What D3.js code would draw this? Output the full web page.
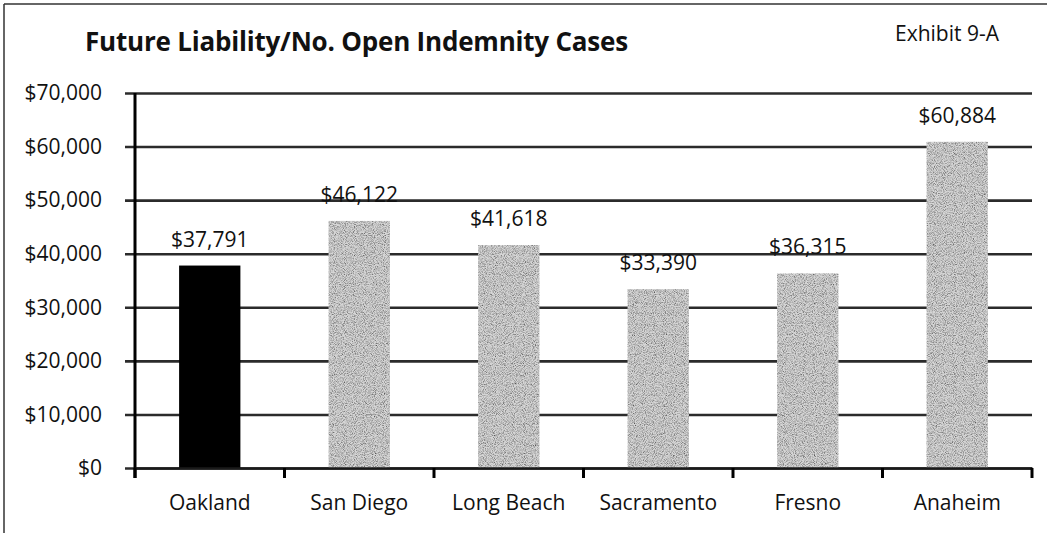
<!DOCTYPE html>
<html>
<head>
<meta charset="utf-8">
<script src="https://cdn.jsdelivr.net/npm/d3@7"></script>
<style>
  html, body { margin: 0; padding: 0; background: #fff; }
  text { font-family: "Open Sans", sans-serif; fill: #111; }
</style>
</head>
<body>
<div id="chart"></div>
<script>
const cities = ["Oakland", "San Diego", "Long Beach", "Sacramento", "Fresno", "Anaheim"];
const liability = [37791, 46122, 41618, 33390, 36315, 60884];
const yTicks = [0, 10000, 20000, 30000, 40000, 50000, 60000, 70000];
const highlight = "Oakland";

const W = 1047, H = 533;
const margin = { top: 93, right: 15, bottom: 65, left: 135 };

const svg = d3.select("#chart").append("svg")
  .attr("width", W)
  .attr("height", H);

// speckled halftone look for the grey bars
const defs = svg.append("defs");
const f = defs.append("filter").attr("id", "grain")
  .attr("x", 0).attr("y", 0).attr("width", "100%").attr("height", "100%");
f.append("feTurbulence").attr("type", "fractalNoise").attr("baseFrequency", 1.1)
  .attr("numOctaves", 1).attr("seed", 7).attr("result", "noise");
f.append("feColorMatrix").attr("in", "noise").attr("type", "matrix")
  .attr("values", "0 0 0 0 0.1  0 0 0 0 0.1  0 0 0 0 0.1  2.4 0 0 0 -0.95").attr("result", "speck");
f.append("feComposite").attr("in", "speck").attr("in2", "SourceGraphic")
  .attr("operator", "in").attr("result", "speckIn");
const merge = f.append("feMerge");
merge.append("feMergeNode").attr("in", "SourceGraphic");
merge.append("feMergeNode").attr("in", "speckIn");

// frame (top + left edge of the scanned page)
svg.append("line").attr("x1", 4).attr("x2", W).attr("y1", 4).attr("y2", 4)
  .attr("stroke", "#333").attr("stroke-width", 1.5);
svg.append("line").attr("x1", 4).attr("x2", 4).attr("y1", 4).attr("y2", H)
  .attr("stroke", "#333").attr("stroke-width", 1.5);

svg.append("text")
  .attr("x", 85).attr("y", 51)
  .style("font-size", "26px").style("font-weight", "bold")
  .style("letter-spacing", "-0.2px")
  .text("Future Liability/No. Open Indemnity Cases");

svg.append("text")
  .attr("x", 999).attr("y", 41)
  .attr("text-anchor", "end")
  .style("font-size", "21px")
  .text("Exhibit 9-A");

const x = d3.scaleBand()
  .domain(cities)
  .range([margin.left, W - margin.right])
  .paddingInner(0.59)
  .paddingOuter(0.295);

const y = d3.scaleLinear()
  .domain([0, 70000])
  .range([H - margin.bottom, margin.top]);

const fmt = v => "$" + d3.format(",")(v);

// gridlines + y tick labels
const yAxis = svg.append("g")
  .attr("transform", `translate(${margin.left},0)`)
  .call(d3.axisLeft(y).tickValues(yTicks).tickFormat(fmt));
yAxis.select(".domain").remove();
yAxis.selectAll(".tick line")
  .attr("x1", -10)
  .attr("x2", W - margin.right - margin.left)
  .attr("stroke", "#2b2b2b").attr("stroke-width", 2.6);
yAxis.selectAll(".tick text")
  .attr("x", 102 - margin.left)
  .style("font-size", "21px").style("font-family", "Open Sans, sans-serif")
  .attr("fill", "#111");

// bars
svg.append("g").selectAll("rect")
  .data(cities)
  .join("rect")
  .attr("x", d => x(d))
  .attr("width", x.bandwidth())
  .attr("y", (d, i) => y(liability[i]))
  .attr("height", (d, i) => y(0) - y(liability[i]))
  .attr("fill", d => d === highlight ? "#000" : "#d6d6d6")
  .attr("filter", d => d === highlight ? null : "url(#grain)");

// value labels
svg.append("g").selectAll("text")
  .data(cities)
  .join("text")
  .attr("x", d => x(d) + x.bandwidth() / 2)
  .attr("y", (d, i) => y(liability[i]) - 19)
  .attr("text-anchor", "middle")
  .style("font-size", "21px")
  .text((d, i) => fmt(liability[i]));

// y axis line
svg.append("line")
  .attr("x1", margin.left).attr("x2", margin.left)
  .attr("y1", y(70000)).attr("y2", y(0) + 10)
  .attr("stroke", "#000").attr("stroke-width", 3);

// x axis: ticks at band boundaries, labels centred
const xAxis = svg.append("g")
  .attr("transform", `translate(0,${y(0)})`)
  .call(d3.axisBottom(x).tickSize(0).tickPadding(27));
xAxis.select(".domain")
  .attr("stroke", "#1a1a1a").attr("stroke-width", 2.6);
xAxis.selectAll(".tick text")
  .style("font-size", "21px").style("font-family", "Open Sans, sans-serif")
  .attr("fill", "#111");

const step = x.step();
const bounds = d3.range(cities.length + 1).map(i => margin.left + i * step);
xAxis.selectAll("line.sep")
  .data(bounds)
  .join("line")
  .attr("class", "sep")
  .attr("x1", d => d).attr("x2", d => d)
  .attr("y1", 0).attr("y2", 10)
  .attr("stroke", "#000").attr("stroke-width", 3);
</script>
</body>
</html>
